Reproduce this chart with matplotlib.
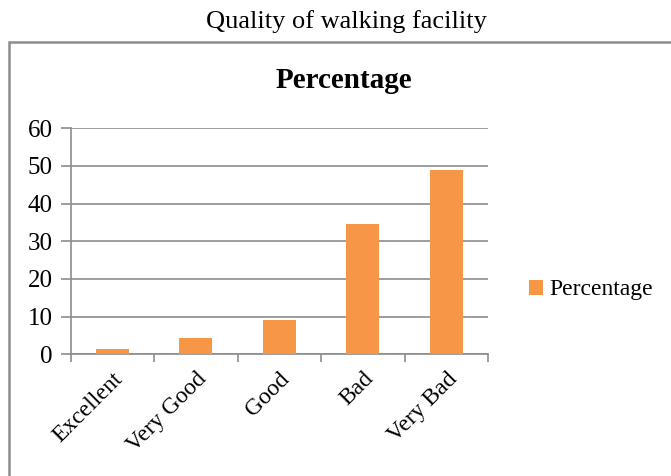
import matplotlib
matplotlib.use('Agg')
import matplotlib.pyplot as plt
from matplotlib.patches import Rectangle

plt.rcParams['font.family'] = ['Liberation Serif', 'DejaVu Serif']

categories = ['Excellent', 'Very Good', 'Good', 'Bad', 'Very Bad']
percentage = [1.5, 4.4, 9.2, 34.5, 48.9]
y_ticks = [0, 10, 20, 30, 40, 50, 60]

W, H = 671, 476
fig = plt.figure(figsize=(W / 100, H / 100), dpi=100)

# outer chart frame (open to the right and bottom)
fig.patches.append(Rectangle((9 / W, -0.1), 1.2, 0.1 + 1 - 41.7 / H,
                             transform=fig.transFigure, fill=False,
                             edgecolor='#8c8c8c', linewidth=1.8))

fig.text(346 / W, 1 - 22 / H, 'Quality of walking facility',
         ha='center', va='center', fontsize=19)
fig.text(344 / W, 1 - 80 / H, 'Percentage',
         ha='center', va='center', fontsize=21, fontweight='bold')

ax = fig.add_axes([70.5 / W, 1 - 354.3 / H, (488 - 70.5) / W, (354.3 - 128.3) / H])
x = range(len(categories))
ax.bar(x, percentage, width=0.4, color='#F79646', label='Percentage', zorder=3)

ax.set_xlim(-0.5, 4.5)
ax.set_ylim(0, 60)
ax.set_yticks(y_ticks)
ax.grid(axis='y', color='#8c8c8c', linewidth=1.2, zorder=0)
ax.tick_params(axis='y', length=7, width=1.2, color='#8c8c8c', labelsize=18, pad=6)
ax.set_xticks([i + 0.5 for i in range(-1, 5)], minor=False)
ax.set_xticklabels([])
ax.set_xticks(list(x), minor=True)
ax.set_xticklabels(categories, minor=True, rotation=45, ha='right',
                   rotation_mode='anchor', fontsize=17)
ax.tick_params(axis='x', which='major', length=6, width=1.2, color='#8c8c8c')
ax.tick_params(axis='x', which='minor', length=0, pad=10)
for side in ['top', 'right']:
    ax.spines[side].set_visible(False)
for side in ['left', 'bottom']:
    ax.spines[side].set_color('#8c8c8c')
    ax.spines[side].set_linewidth(1.2)

fig.legend(loc='center left', bbox_to_anchor=(529 / W, 1 - 290 / H),
           frameon=False, fontsize=17, handlelength=0.6, handleheight=0.6,
           handletextpad=0.25, borderpad=0, borderaxespad=0)

fig.savefig('out.png', dpi=100)
